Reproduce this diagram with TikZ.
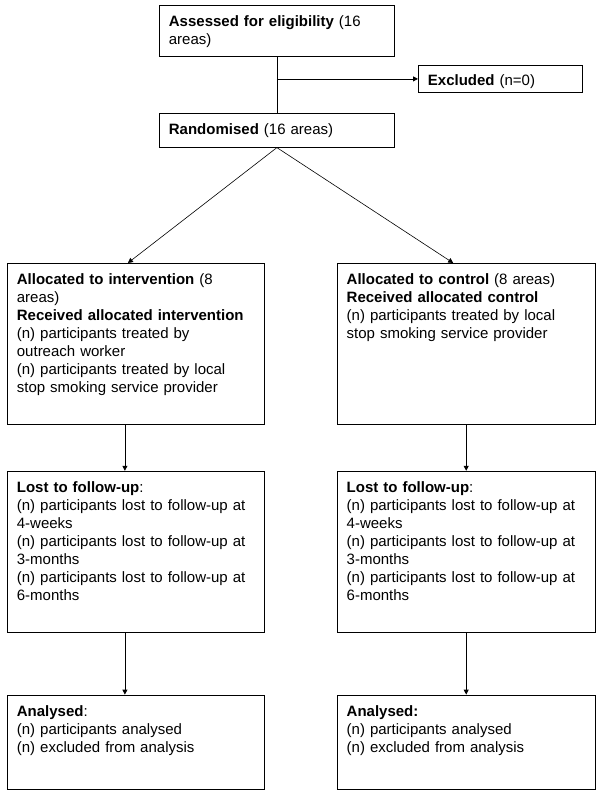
\documentclass[tikz,border=0pt]{standalone}
\usepackage{fontspec}
\setmainfont{Liberation Sans}
\usetikzlibrary{arrows.meta,positioning}

\begin{document}
\begin{tikzpicture}[x=1pt, y=-1pt, >={Triangle[length=5pt,width=5pt]}, line width=0.8pt,
	box/.style={draw, anchor=north west, align=left, inner xsep=9.5pt, inner ysep=8pt,
		text height=13pt, font=\fontsize{15}{18}\selectfont}]
	\useasboundingbox (0,0) rectangle (600,795);

	% Enrolment
	\node [box, text width=216pt, text depth=22pt] (assess) at (159,5)
		{\textbf{Assessed for eligibility} (16\\areas)};
	\node [box, text width=145pt, text depth=0pt, inner ysep=7pt] (excl) at (418,65)
		{\textbf{Excluded} (n=0)};
	\node [box, text width=216pt, text depth=5pt] (rand) [below=56pt of assess.south west, anchor=north west]
		{\textbf{Randomised} (16 areas)};

	% Allocation
	\node [box, text width=238pt, text depth=132pt] (allocI) at (7,263)
		{\textbf{Allocated to intervention} (8\\areas)\\
		 \textbf{Received allocated intervention}\\
		 (n) participants treated by\\outreach worker\\
		 (n) participants treated by local\\stop smoking service provider};
	\node [box, text width=239pt, text depth=132pt] (allocC) [right=72pt of allocI.north east, anchor=north west]
		{\textbf{Allocated to control} (8 areas)\\
		 \textbf{Received allocated control}\\
		 (n) participants treated by local\\stop smoking service provider};

	% Follow-up
	\node [box, text width=238pt, text depth=132pt] (lostI) [below=46pt of allocI.south west, anchor=north west]
		{\textbf{Lost to follow-up}:\\
		 (n) participants lost to follow-up at\\4-weeks\\
		 (n) participants lost to follow-up at\\3-months\\
		 (n) participants lost to follow-up at\\6-months};
	\node [box, text width=239pt, text depth=132pt] (lostC) [below=46pt of allocC.south west, anchor=north west]
		{\textbf{Lost to follow-up}:\\
		 (n) participants lost to follow-up at\\4-weeks\\
		 (n) participants lost to follow-up at\\3-months\\
		 (n) participants lost to follow-up at\\6-months};

	% Analysis
	\node [box, text width=238pt, text depth=65pt] (anaI) [below=62pt of lostI.south west, anchor=north west]
		{\textbf{Analysed}:\\(n) participants analysed\\(n) excluded from analysis};
	\node [box, text width=239pt, text depth=65pt] (anaC) [below=62pt of lostC.south west, anchor=north west]
		{\textbf{Analysed:}\\(n) participants analysed\\(n) excluded from analysis};

	% Connectors
	\draw (assess) -- (rand);
	\draw [->] (assess.south |- excl.west) -- (excl.west);
	\draw [->, line width=0.6pt] (rand.south) -- ([xshift=-8pt]allocI.north);
	\draw [->, line width=0.6pt] (rand.south) -- ([xshift=-13pt]allocC.north);
	\draw [->] ([xshift=-11pt]allocI.south) -- ([xshift=-11pt]lostI.north);
	\draw [->] (allocC.south) -- (lostC.north);
	\draw [->] ([xshift=-11pt]lostI.south) -- ([xshift=-11pt]anaI.north);
	\draw [->] (lostC.south) -- (anaC.north);
\end{tikzpicture}
\end{document}
